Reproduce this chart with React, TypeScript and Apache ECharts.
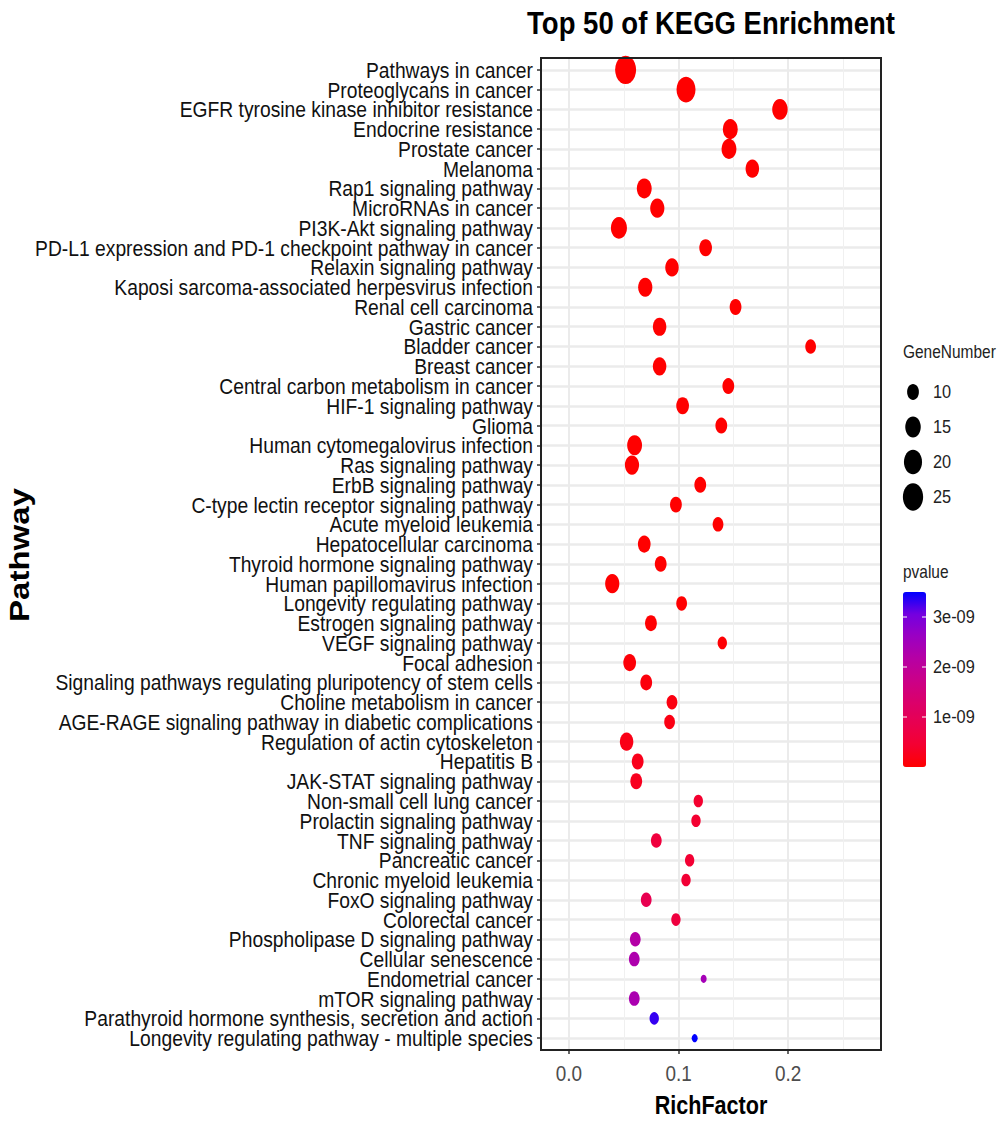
import React, { useEffect, useRef } from "react";
import * as echarts from "echarts";

const categories = [
  "Pathways in cancer",
  "Proteoglycans in cancer",
  "EGFR tyrosine kinase inhibitor resistance",
  "Endocrine resistance",
  "Prostate cancer",
  "Melanoma",
  "Rap1 signaling pathway",
  "MicroRNAs in cancer",
  "PI3K-Akt signaling pathway",
  "PD-L1 expression and PD-1 checkpoint pathway in cancer",
  "Relaxin signaling pathway",
  "Kaposi sarcoma-associated herpesvirus infection",
  "Renal cell carcinoma",
  "Gastric cancer",
  "Bladder cancer",
  "Breast cancer",
  "Central carbon metabolism in cancer",
  "HIF-1 signaling pathway",
  "Glioma",
  "Human cytomegalovirus infection",
  "Ras signaling pathway",
  "ErbB signaling pathway",
  "C-type lectin receptor signaling pathway",
  "Acute myeloid leukemia",
  "Hepatocellular carcinoma",
  "Thyroid hormone signaling pathway",
  "Human papillomavirus infection",
  "Longevity regulating pathway",
  "Estrogen signaling pathway",
  "VEGF signaling pathway",
  "Focal adhesion",
  "Signaling pathways regulating pluripotency of stem cells",
  "Choline metabolism in cancer",
  "AGE-RAGE signaling pathway in diabetic complications",
  "Regulation of actin cytoskeleton",
  "Hepatitis B",
  "JAK-STAT signaling pathway",
  "Non-small cell lung cancer",
  "Prolactin signaling pathway",
  "TNF signaling pathway",
  "Pancreatic cancer",
  "Chronic myeloid leukemia",
  "FoxO signaling pathway",
  "Colorectal cancer",
  "Phospholipase D signaling pathway",
  "Cellular senescence",
  "Endometrial cancer",
  "mTOR signaling pathway",
  "Parathyroid hormone synthesis, secretion and action",
  "Longevity regulating pathway - multiple species",
];

const richFactor = [
  0.0517, 0.1068, 0.1925, 0.1472, 0.146, 0.1673, 0.0687, 0.0806, 0.0456, 0.1247,
  0.094, 0.0696, 0.152, 0.0827, 0.2205, 0.0827, 0.1454, 0.1037, 0.139, 0.0599,
  0.0575, 0.1198, 0.0976, 0.136, 0.0687, 0.0837, 0.0395, 0.1028, 0.0748, 0.1399,
  0.0554, 0.0705, 0.094, 0.0918, 0.0526, 0.0627, 0.0614, 0.118, 0.1159, 0.0797,
  0.1101, 0.1068, 0.0705, 0.0976, 0.0605, 0.0596, 0.1229, 0.0596, 0.0778, 0.1147,
];

const geneNumber = [
  27, 22, 15, 14, 14, 12, 14, 13, 16, 11,
  12, 13, 10, 12, 9, 12, 10, 11, 10, 14,
  13, 10, 10, 9, 11, 10, 13, 9, 10, 8,
  11, 10, 9, 9, 12, 10, 10, 8, 8, 9,
  8, 8, 9, 8, 9, 9, 7, 9, 8, 7,
];

const pValue = [
  1.2e-20, 3.5e-19, 8.1e-19, 2.2e-18, 4.6e-18, 9.9e-18, 1.8e-17, 4.4e-17, 7.3e-17, 1.5e-16,
  3.1e-16, 6.2e-16, 9.4e-16, 1.9e-15, 3.3e-15, 6.8e-15, 1.2e-14, 2.9e-14, 5.1e-14, 8.7e-14,
  1.6e-13, 3.4e-13, 6.1e-13, 9.8e-13, 1.7e-12, 3.2e-12, 5.9e-12, 9.6e-12, 1.8e-11, 3.3e-11,
  6.4e-11, 1.1e-10, 1.4e-10, 1.7e-10, 2.0e-10, 2.4e-10, 2.8e-10, 4.2e-10, 4.4e-10, 6.0e-10,
  4.6e-10, 5.0e-10, 8.8e-10, 6.2e-10, 2.2e-9, 2.3e-9, 2.45e-9, 2.35e-9, 3.3e-9, 3.5e-9,
];

const sizeBreaks = [10, 15, 20, 25];
const pBreaks = [1e-9, 2e-9, 3e-9];
const pBreakLabels = ["1e-09", "2e-09", "3e-09"];
const xTicks = [0, 0.1, 0.2];
const xTickLabels = ["0.0", "0.1", "0.2"];
const xMinorTicks = [0.05, 0.15, 0.25];

const FONT = "'Liberation Sans', Arial, sans-serif";
const SQ = 0.86; // horizontal squeeze of the reference's text
const GRID = { left: 541, top: 58, width: 340, height: 992 };
const nMin = Math.min(...geneNumber);
const nMax = Math.max(...geneNumber);
const pMax = Math.max(...pValue);

function sizeOf(n: number): [number, number] {
  const w = 6 + 15 * Math.sqrt((n - nMin) / (nMax - nMin));
  return [w, w * 1.35];
}

const COLOR_STOPS = ["#FF0000", "#F40031", "#E80050", "#DA006C", "#CA0089", "#B500A5", "#9A00C3", "#7300E0", "#0000FF"];

function txt(text: string, x: number, y: number, font: string, align: string, fill = "#111", extra: any = {}) {
  return {
    type: "text", x, y, scaleX: SQ, ...extra,
    style: { text, font, fill, align, verticalAlign: "middle" },
  };
}

export default function App() {
  const ref = useRef<HTMLDivElement>(null);
  useEffect(() => {
    if (!ref.current) return;
    const chart = echarts.init(ref.current, null, { renderer: "svg" });
    const data = categories.map((c, i) => [richFactor[i], i, pValue[i], geneNumber[i]]);
    const yIdx = categories.map((_, i) => i);

    const barLeft = 903, barTop = 592, barW = 23, barH = 175;

    chart.setOption({
      animation: false,
      backgroundColor: "#fff",
      grid: { ...GRID, containLabel: false, outerBoundsMode: "none" },
      xAxis: [
        {
          type: "value", min: -0.0255, max: 0.2847,
          axisLine: { show: false, onZero: false },
          axisTick: { show: true, length: 4, customValues: xTicks, lineStyle: { color: "#333", width: 1.5 } },
          axisLabel: { show: false, customValues: xTicks },
          splitLine: { show: true, lineStyle: { color: "#EBEBEB", width: 2 } },
        },
        {
          type: "value", min: -0.0255, max: 0.2847, position: "bottom",
          axisLine: { show: false, onZero: false },
          axisTick: { show: false, customValues: xMinorTicks },
          axisLabel: { show: false, customValues: xMinorTicks },
          splitLine: { show: true, lineStyle: { color: "#F0F0F0", width: 1 } },
        },
      ],
      yAxis: {
        type: "value", min: -0.6, max: 49.6, inverse: true,
        axisLine: { show: false, onZero: false },
        axisTick: { show: true, length: 4, customValues: yIdx, lineStyle: { color: "#333", width: 1.5 } },
        axisLabel: { show: false, customValues: yIdx },
        splitLine: { show: true, lineStyle: { color: "#EBEBEB", width: 2.5 } },
      },
      visualMap: {
        type: "continuous", min: 0, max: pMax, dimension: 2, seriesIndex: 0,
        left: barLeft, top: barTop, itemWidth: barW, itemHeight: barH, padding: 0,
        calculable: false, realtime: false, text: ["", ""], showLabel: false,
        inRange: { color: COLOR_STOPS },
      },
      series: [
        {
          type: "scatter", xAxisIndex: 0, yAxisIndex: 0,
          data,
          symbol: "circle",
          symbolSize: (val: number[]) => sizeOf(val[3]),
          itemStyle: { opacity: 1 },
          emphasis: { disabled: true },
        },
      ],
    });

    const graphics: any[] = [];
    // axis labels positioned through the axes' own scales
    categories.forEach((c, i) => {
      const y = chart.convertToPixel({ yAxisIndex: 0 }, i) as number;
      graphics.push(txt(c, GRID.left - 8, y, `22px ${FONT}`, "right", "#111", { scaleX: 0.876 }));
    });
    xTicks.forEach((v, i) => {
      const x = chart.convertToPixel({ xAxisIndex: 0 }, v) as number;
      graphics.push(txt(xTickLabels[i], x, GRID.top + GRID.height + 23, `22px ${FONT}`, "center", "#4d4d4d"));
    });
    graphics.push(txt("Top 50 of KEGG Enrichment", GRID.left + GRID.width / 2, 23, `bold 32px ${FONT}`, "center", "#000"));
    graphics.push({
      type: "text", x: 19, y: 555, rotation: Math.PI / 2, scaleY: SQ,
      style: { text: "Pathway", font: `bold 33px ${FONT}`, fill: "#000", align: "center", verticalAlign: "middle" },
    });
    graphics.push(txt("RichFactor", GRID.left + GRID.width / 2, 1105, `bold 26px ${FONT}`, "center", "#000", { scaleX: 0.83 }));
    graphics.push({
      type: "rect", z: 100,
      shape: { x: GRID.left, y: GRID.top, width: GRID.width, height: GRID.height },
      style: { fill: "none", stroke: "#222", lineWidth: 2 },
    });
    graphics.push(txt("GeneNumber", 903, 352, `18px ${FONT}`, "left", "#222"));
    sizeBreaks.forEach((n, i) => {
      const [w, h] = sizeOf(n);
      const cy = 392 + i * 35;
      graphics.push({ type: "ellipse", shape: { cx: 913, cy, rx: w / 2, ry: h / 2 }, style: { fill: "#000" } });
      graphics.push(txt(String(n), 933, cy, `19px ${FONT}`, "left", "#222"));
    });
    graphics.push(txt("pvalue", 903, 572, `18px ${FONT}`, "left", "#222"));
    pBreaks.forEach((p, i) => {
      const y = barTop + barH * (1 - p / pMax);
      graphics.push({ type: "line", z: 10, shape: { x1: barLeft, y1: y, x2: barLeft + 4, y2: y }, style: { stroke: "#fff", lineWidth: 1 } });
      graphics.push({ type: "line", z: 10, shape: { x1: barLeft + barW - 4, y1: y, x2: barLeft + barW, y2: y }, style: { stroke: "#fff", lineWidth: 1 } });
      graphics.push(txt(pBreakLabels[i], 933, y, `19px ${FONT}`, "left", "#222"));
    });

    chart.setOption({ graphic: graphics });
    return () => chart.dispose();
  }, []);
  return <div ref={ref} style={{ position: "absolute", left: 0, top: 0, width: 998, height: 1122 }} />;
}
